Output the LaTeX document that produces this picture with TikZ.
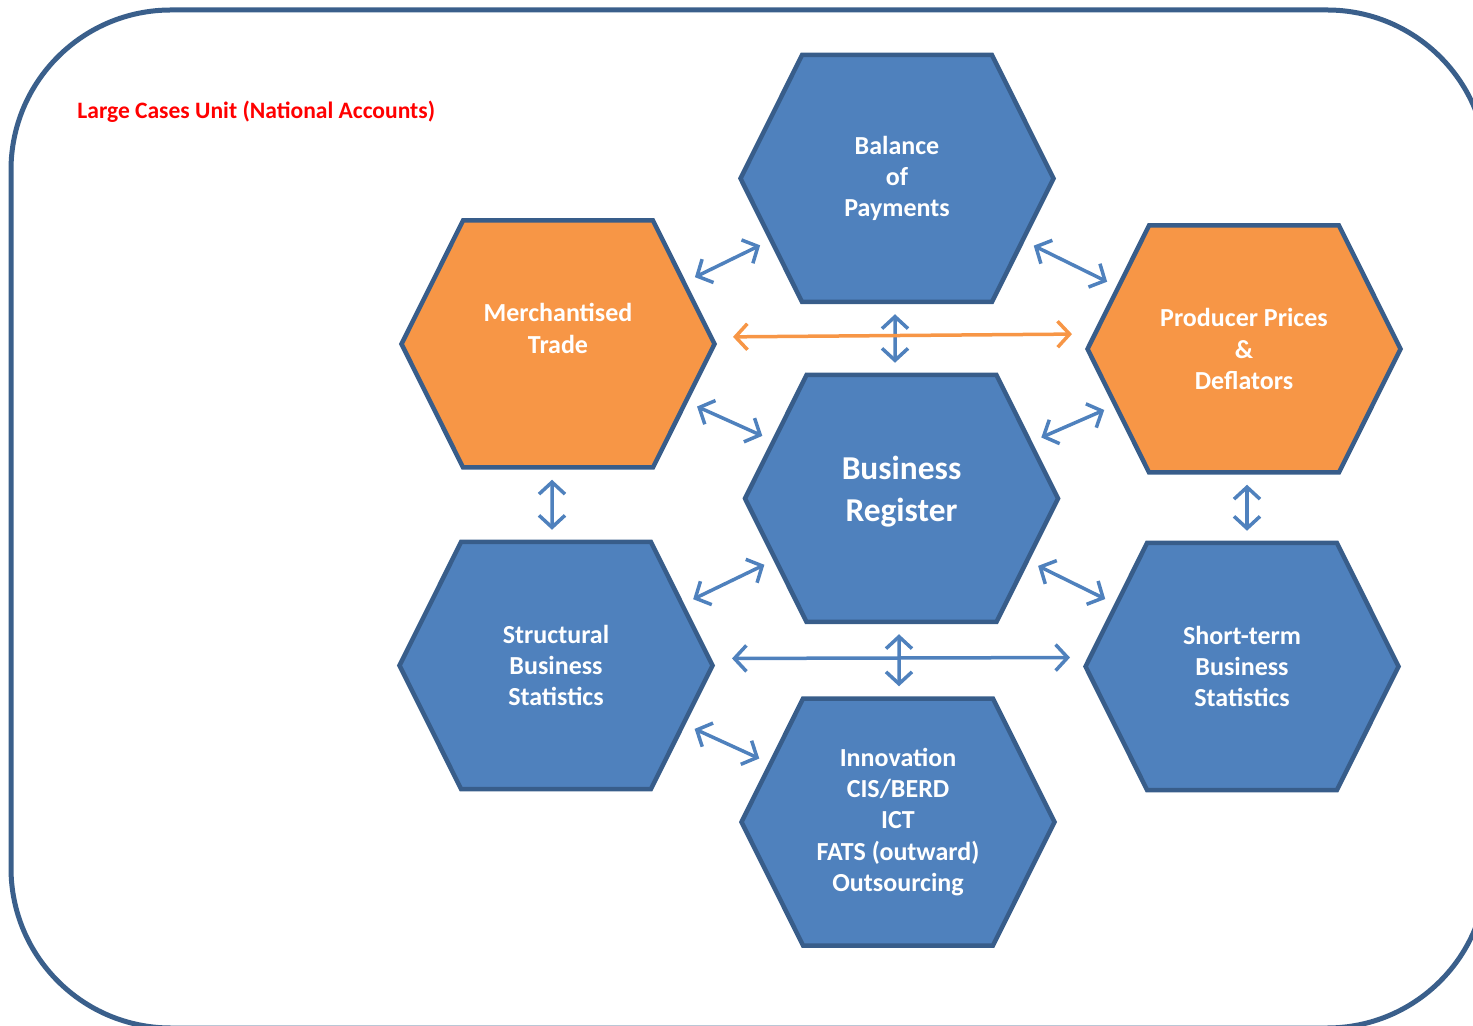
\documentclass[tikz,border=0pt]{standalone}
\usepackage{fontspec}
\setmainfont{Carlito}
\usepackage{tikz}
\usetikzlibrary{positioning}
\usetikzlibrary{shapes.symbols}
\usetikzlibrary{arrows.meta}
\definecolor{hexblue}{HTML}{4F81BD}
\definecolor{hexorange}{HTML}{F79646}
\definecolor{hexedge}{HTML}{385D8A}
\definecolor{frameblue}{HTML}{3A5F8B}
\tikzset{
	hexa/.style={signal, signal to=east and west, signal pointer angle=127, minimum width=3.13cm, minimum height=2.47cm, inner sep=0pt, draw=hexedge, line width=0.45mm, fill=hexblue, text=white, align=center, font=\bfseries\fontsize{7.4}{8.9}\selectfont},
	link/.style={<->, >={Straight Barb[length=1.2mm, width=2.6mm]}, line width=0.35mm, draw=hexblue, shorten <=1mm, shorten >=1mm}
}

\begin{document}
\begin{tikzpicture}
	\useasboundingbox (0,0) rectangle (14.73,-10.26);
	\draw[frameblue, line width=0.5mm, rounded corners=1.6cm] (0.11,-0.10) rectangle (14.87,-10.28);
	\node[anchor=west, text=red, font=\bfseries\fontsize{6.7}{8}\selectfont] (title) at (0.65,-1.12) {Large Cases Unit (National Accounts)};
	
	\node[hexa, font=\bfseries\fontsize{9.5}{11.9}\selectfont] (br) at (9.015,-4.985) {Business\\Register\rule[-1.9mm]{0pt}{1mm}};
	\node[hexa] (bop) at (8.97,-1.785) {Balance\\of\\Payments};
	\node[hexa, fill=hexorange] (mt) at (5.58,-3.44) {Merchantised\\Trade\\\mbox{}};
	\node[hexa, fill=hexorange] (pp) at (12.44,-3.49) {Producer Prices\\\&\\Deflators};
	\node[hexa, below = 0.70cm of mt, xshift=-0.02cm] (sbs) {Structural\\Business\\Statistics};
	\node[hexa, below = 0.66cm of pp, xshift=-0.02cm] (sts) {Short-term\\Business\\Statistics};
	\node[hexa, below = 0.72cm of br, xshift=-0.035cm] (inn) {Innovation\\CIS/BERD\\ICT\\FATS (outward)\\Outsourcing};
	
	\draw[link] (mt) -- (bop);
	\draw[link] (bop) -- (pp);
	\draw[link] ([xshift=-0.02cm]bop.south) -- ([xshift=-0.065cm]br.north);
	\draw[link] (mt) -- (br);
	\draw[link] (pp) -- (br);
	\draw[link] ([xshift=-0.06cm]mt.south) -- ([xshift=-0.04cm]sbs.north);
	\draw[link] ([xshift=0.03cm]pp.south) -- ([xshift=0.05cm]sts.north);
	\draw[link] (sbs) -- (br);
	\draw[link] (br) -- (sts);
	\draw[link] ([xshift=-0.025cm]br.south) -- ([xshift=0.01cm]inn.north);
	\draw[link] (sbs) -- (inn);
	\draw[link, shorten <=1.7mm, shorten >=1.3mm] ([yshift=0.07cm]sbs.east) -- ([yshift=0.09cm]sts.west);
	\draw[link, draw=hexorange, shorten <=1.6mm, shorten >=1.3mm] ([yshift=0.07cm]mt.east) -- ([yshift=0.15cm]pp.west);
\end{tikzpicture}
\end{document}
